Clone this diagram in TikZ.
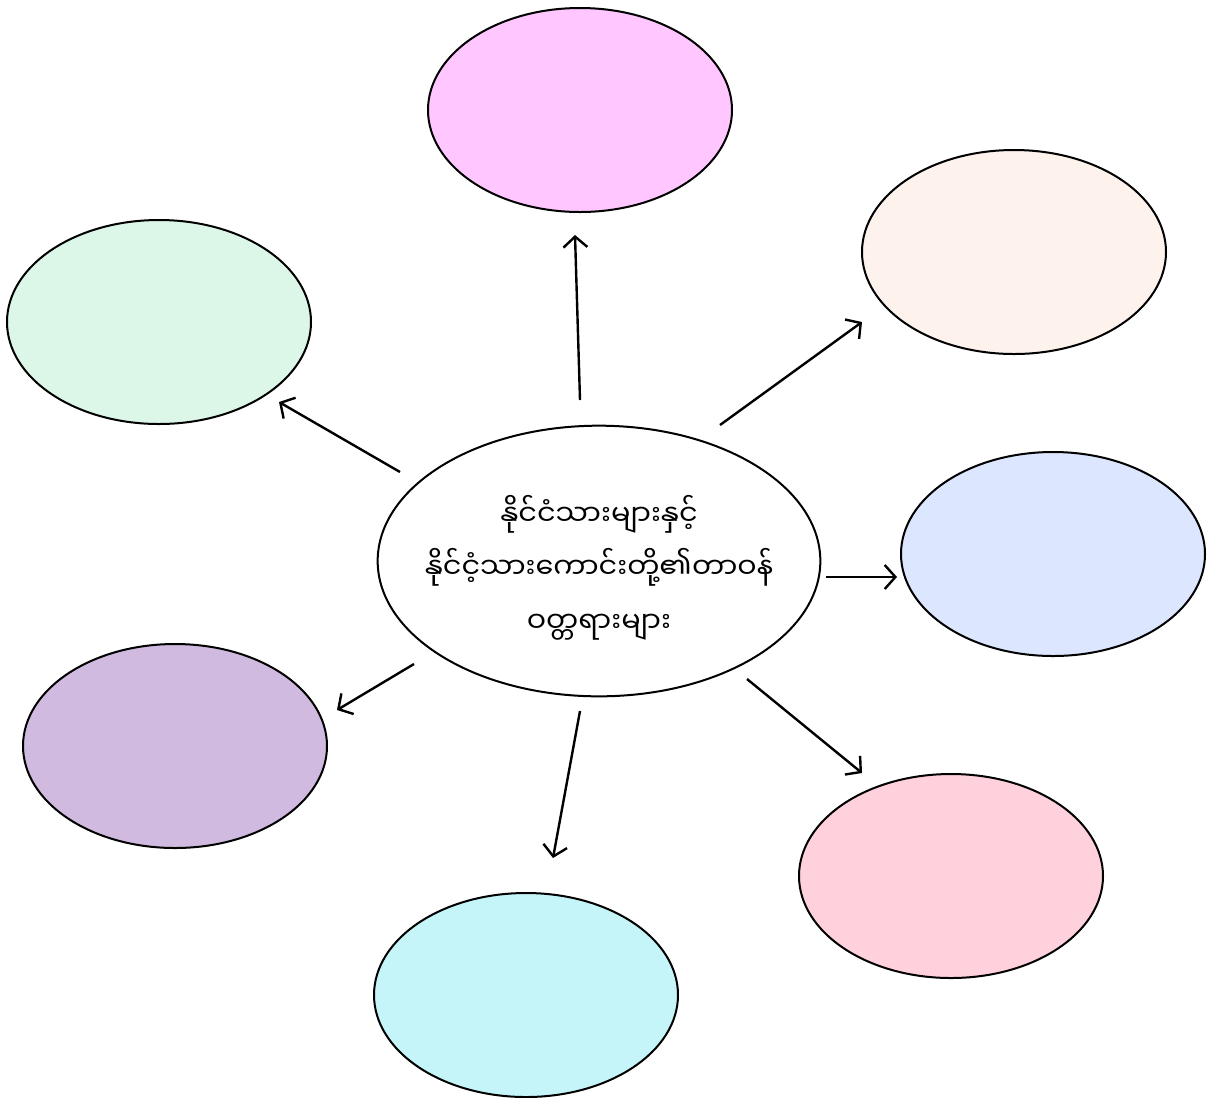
\documentclass[tikz,border=0pt]{standalone}
\usepackage{fontspec}
\newfontfamily\mmfont[Script=Myanmar]{Noto Sans Myanmar UI}
\usetikzlibrary{shapes.geometric,arrows.meta}
\definecolor{cTop}{HTML}{FFC6FF}
\definecolor{cUR}{HTML}{FDF2EC}
\definecolor{cR}{HTML}{DCE6FE}
\definecolor{cBR}{HTML}{FFD1DC}
\definecolor{cB}{HTML}{C5F5F9}
\definecolor{cBL}{HTML}{D0BADF}
\definecolor{cTL}{HTML}{DCF6E8}
\begin{document}
\begin{tikzpicture}[x=0.75pt,y=-0.75pt,
  bub/.style={ellipse,draw=black,line width=1.5pt,minimum width=228pt,minimum height=153pt,inner sep=0pt},
  arr/.style={-{Straight Barb[length=8pt,width=18pt,line width=1.8pt]},line width=1.8pt}]
\useasboundingbox (0,0) rectangle (1209,1097);
\node[bub,minimum width=332pt,minimum height=203pt,fill=white] (c) at (599,561) {};
\node[align=center,font=\mmfont\fontsize{21.5}{40}\selectfont] (ct) at ([yshift=-5pt]c.center)
  {နိုင်ငံသားများနှင့်\\နိုင်ငံ့သားကောင်းတို့၏တာဝန်\\ဝတ္တရားများ};
\node[bub,fill=cTop] (t) at (580,110) {};
\node[bub,fill=cUR] (ur) at (1014,252) {};
\node[bub,fill=cR] (r) at (1053,554) {};
\node[bub,fill=cBR] (br) at (951,876) {};
\node[bub,fill=cB] (b) at (526,995) {};
\node[bub,fill=cBL] (bl) at (175,746) {};
\node[bub,fill=cTL] (tl) at (159,322) {};
\coordinate (s1) at (580,400); \coordinate (e1) at (575,235);
\coordinate (s2) at (720,425); \coordinate (e2) at (862,322);
\coordinate (s3) at (826,577); \coordinate (e3) at (897,577);
\coordinate (s4) at (747,679); \coordinate (e4) at (862,773);
\coordinate (s5) at (580,711); \coordinate (e5) at (553,858);
\coordinate (s6) at (414,664); \coordinate (e6) at (337,710);
\coordinate (s7) at (400,472); \coordinate (e7) at (279,402);
\draw[arr] (s1) -- (e1);
\draw[arr] (s2) -- (e2);
\draw[arr] (s3) -- (e3);
\draw[arr] (s4) -- (e4);
\draw[arr] (s5) -- (e5);
\draw[arr] (s6) -- (e6);
\draw[arr] (s7) -- (e7);
\end{tikzpicture}
\end{document}
